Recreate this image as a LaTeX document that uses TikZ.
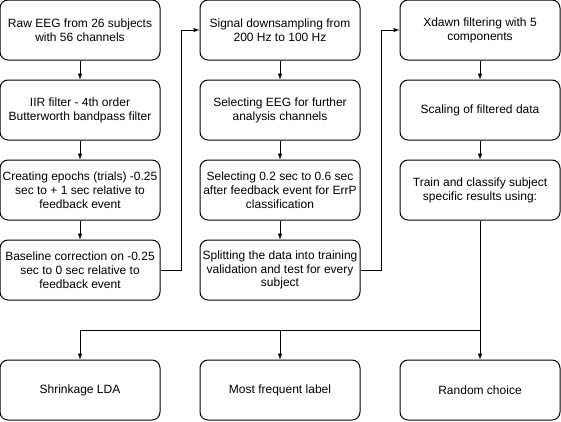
\documentclass[tikz,border=0pt]{standalone}
\usepackage{fontspec}
\setmainfont{Liberation Sans}
\usepackage{tikz}
\usetikzlibrary{calc}

\begin{document}
\begin{tikzpicture} [
        x=1pt, y=1pt,
        stage/.style={draw, line width=1pt, rounded corners=8pt, minimum width=160pt, minimum height=60pt, inner sep=1pt, c, font=\fontsize{12}{13.8}\selectfont},
        flow/.style={-latex, line width=1pt},
        c/.style={align=center}
    ]
        \useasboundingbox (0,0) rectangle (561,-421);

        % first column
        \node [stage] (a1) at (80,-30) {Raw EEG from 26 subjects\\with 56 channels};
        \node [stage] (a2) at (80,-110) {IIR filter - 4th order\\Butterworth bandpass filter};
        \node [stage] (a3) at (80,-190) {Creating epochs (trials) -0.25\\sec to + 1 sec relative to\\feedback event};
        \node [stage] (a4) at (80,-270) {Baseline correction on -0.25\\sec to 0 sec relative to\\feedback event};

        % second column
        \node [stage] (b1) at (280,-30) {Signal downsampling from\\200 Hz to 100 Hz};
        \node [stage] (b2) at (280,-110) {Selecting EEG for further\\analysis channels};
        \node [stage] (b3) at (280,-190) {Selecting 0.2 sec to 0.6 sec\\after feedback event for ErrP\\classification};
        \node [stage] (b4) at (280,-270) {Splitting the data into training\\validation and test for every\\subject};

        % third column
        \node [stage] (c1) at (480,-30) {Xdawn filtering with 5\\components};
        \node [stage] (c2) at (480,-110) {Scaling of filtered data};
        \node [stage] (c3) at (480,-190) {Train and classify subject\\specific results using:};

        % classifiers
        \node [stage] (r1) at (80,-390) {Shrinkage LDA};
        \node [stage] (r2) at (280,-390) {Most frequent label};
        \node [stage] (r3) at (480,-390) {Random choice};

        \foreach \col in {a, b} {
            \foreach \i/\j in {1/2, 2/3, 3/4} {
                \draw[flow] (\col\i) -- (\col\j);
            }
        }
        \foreach \i/\j in {1/2, 2/3} {
            \draw[flow] (c\i) -- (c\j);
        }

        \draw[flow] (a4.east) -- ++(21,0) |- (b1.west);
        \draw[flow] (b4.east) -- ++(21,0) |- (c1.west);

        \draw[flow] (c3.south) -- (r3.north);
        \coordinate (split) at (480,-330);
        \foreach \n in {r1, r2} {
            \draw[flow] (split) -| (\n.north);
        }
    \end{tikzpicture}
\end{document}
